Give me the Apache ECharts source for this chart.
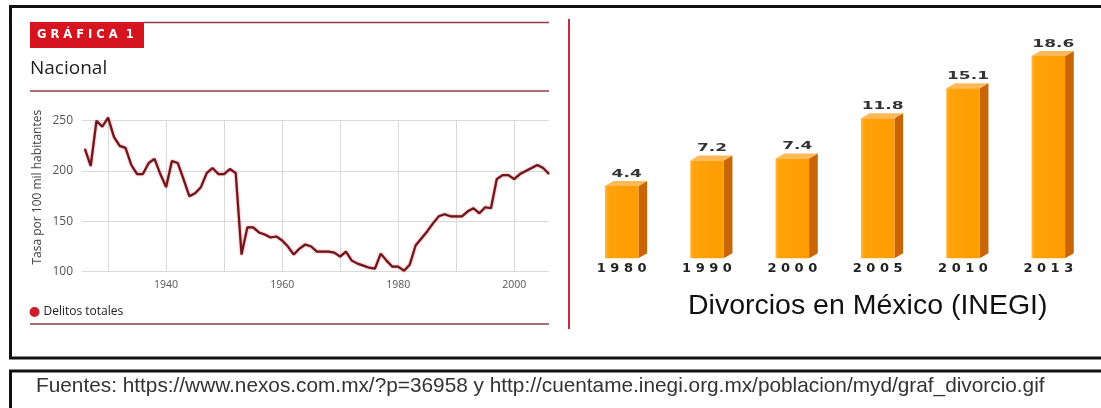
<!DOCTYPE html>
<html><head><meta charset="utf-8">
<script src="https://cdn.jsdelivr.net/npm/echarts@6/dist/echarts.min.js"></script>
<style>html,body{margin:0;padding:0;background:#fff}#c{width:1101px;height:408px}</style>
</head><body><div id="c"></div>
<script>
// ---- Left chart: Delitos totales (tasa por 100 mil habitantes) ----
const crimeYears = [];
for (let y = 1926; y <= 2006; y++) crimeYears.push(y);
const crimeRates = [
  222,205,250,244,253,234,225,223,206,197, // 1926-1935
  197,208,212,197,184,210,208,192,175,178, // 1936-1945
  184,198,203,197,197,202,198,117,144,144, // 1946-1955
  139,137,134,135,131,125,117,123,127,125, // 1956-1965
  120,120,120,119,115,120,111,108,106,104, // 1966-1975
  103,118,111,105,105,101,107,126,133,140, // 1976-1985
  148,155,157,155,155,155,160,163,158,164, // 1986-1995
  163,192,196,196,192,197,200,203,206,203, // 1996-2005
  197                                       // 2006
];
const crimeGridYears = [1930,1940,1950,1960,1970,1980,1990,2000];
const crimeLabelYears = [1940,1960,1980,2000];
const crimeYTicks = [100,150,200,250];

// ---- Right chart: Divorcios en México (INEGI) ----
const divorceYears = ['1980','1990','2000','2005','2010','2013'];
const divorceRates = [4.4,7.2,7.4,11.8,15.1,18.6];

const BAR_MIN = -3.5, BAR_MAX = 20;

const chart = echarts.init(document.getElementById('c'), null, {renderer:'canvas'});

const spaced = s => String(s).split('').join(' ');

const option = {
  backgroundColor:'#ffffff',
  animation:false,
  title:[
    {text:'Nacional', left:30, top:59, padding:0,
     textStyle:{fontFamily:'Open Sans', fontSize:19, fontWeight:'normal', color:'#1e1e1e'}},
    {text:'Divorcios en México (INEGI)', left:688, top:292, padding:0,
     textStyle:{fontFamily:'Liberation Sans', fontSize:28.5, fontWeight:'normal', color:'#111'}}
  ],
  legend:{
    data:['Delitos totales'], left:29.5, top:306, padding:0,
    icon:'circle', itemWidth:10, itemHeight:10, itemGap:5,
    textStyle:{fontFamily:'Open Sans', fontSize:12, color:'#222', padding:[0,0,0,-1]}
  },
  grid:[
    {left:82, right:552, top:120.7, bottom:136.3},
    {left:579, right:10, top:43.3, bottom:149.7}
  ],
  xAxis:[
    {type:'value', gridIndex:0, min:1925.5, max:2006,
     axisLine:{show:false},
     axisTick:{show:false, customValues:crimeGridYears},
     splitLine:{show:true, lineStyle:{color:'#d9d9d9', width:1}},
     axisLabel:{customValues:crimeLabelYears, margin:8, color:'#555',
                fontFamily:'Open Sans', fontSize:10.5, formatter:v=>String(v)}},
    {type:'category', gridIndex:1, data:divorceYears,
     axisLine:{show:false}, axisTick:{show:false}, splitLine:{show:false},
     axisLabel:{margin:4, color:'#222', fontFamily:'DejaVu Sans', fontWeight:'bold', fontSize:13,
                formatter:v=>spaced(v)}}
  ],
  yAxis:[
    {type:'value', gridIndex:0, min:100, max:250, interval:50,
     name:'Tasa por 100 mil habitantes', nameLocation:'middle', nameGap:38,
     nameTextStyle:{fontFamily:'Open Sans', fontSize:12, color:'#444', padding:[0,0,0,18]},
     axisLine:{show:false}, axisTick:{show:false},
     splitLine:{show:true, lineStyle:{color:'#d9d9d9', width:1}},
     axisLabel:{customValues:crimeYTicks, margin:9, color:'#555', fontFamily:'Open Sans', fontSize:12}},
    {type:'value', gridIndex:1, min:BAR_MIN, max:BAR_MAX, show:false,
     splitLine:{show:false}}
  ],
  series:[
    {name:'Delitos totales', type:'line', xAxisIndex:0, yAxisIndex:0,
     data:crimeYears.map((y,i)=>[y, crimeRates[i]]),
     showSymbol:false, symbol:'circle', clip:false,
     itemStyle:{color:'#cc1f2a'},
     lineStyle:{color:'#6b181d', width:2.2, shadowColor:'rgba(220,30,40,0.7)', shadowBlur:2}},
    {name:'Divorcios', type:'custom', xAxisIndex:1, yAxisIndex:1,
     data:divorceYears.map((y,i)=>[i, divorceRates[i]]),
     encode:{x:0, y:1},
     renderItem:function(params, api){
       const top = api.coord([api.value(0), api.value(1)]);
       const base = api.coord([api.value(0), BAR_MIN]);
       const w = 33.5, dx = 8.7, dy = 5;
       const x0 = top[0] - w/2, x1 = x0 + w;
       const t = top[1], b = base[1];
       return {type:'group', children:[
         {type:'polygon', shape:{points:[[x1,t],[x1+dx,t-dy],[x1+dx,b-dy],[x1,b]]},
          style:{fill:'#c76507'}},
         {type:'polygon', shape:{points:[[x0,t],[x0+dx,t-dy],[x1+dx,t-dy],[x1,t]]},
          style:{fill:'#ffb85a'}},
         {type:'rect', shape:{x:x0, y:t, width:w, height:b-t},
          style:{fill:new echarts.graphic.LinearGradient(0,0,1,0,[
            {offset:0,color:'#ffb23a'},{offset:0.12,color:'#ffa20a'},{offset:1,color:'#ff9c00'}])}},
         {type:'text', x:top[0]+5, y:t-dy-7, scaleX:1.7,
          style:{text:String(api.value(1)), fill:'#333', fontFamily:'DejaVu Sans',
                 fontWeight:'bold', fontSize:10, align:'center', verticalAlign:'middle'}}
       ]};
     }}
  ],
  graphic:[
    {type:'rect', shape:{x:10.5, y:6.5, width:1100, height:351.5},
     style:{fill:'none', stroke:'#111', lineWidth:3}, silent:true},
    {type:'rect', shape:{x:10.5, y:371, width:1100, height:60},
     style:{fill:'none', stroke:'#111', lineWidth:3}, silent:true},
    {type:'rect', shape:{x:30, y:22, width:114, height:26}, style:{fill:'#d6141f'}, silent:true},
    {type:'text', x:37, y:35.5, style:{text:'G R Á F I C A  1', fill:'#fff',
      fontFamily:'DejaVu Sans', fontWeight:'bold', fontSize:11.5, verticalAlign:'middle'}},
    {type:'line', shape:{x1:144, y1:22.5, x2:549, y2:22.5}, style:{stroke:'#8d3f44', lineWidth:1.5}},
    {type:'line', shape:{x1:30, y1:91, x2:549, y2:91}, style:{stroke:'#8d3f44', lineWidth:1.5}},
    {type:'line', shape:{x1:30, y1:324, x2:549, y2:324}, style:{stroke:'#8d3f44', lineWidth:1.5}},
    {type:'line', shape:{x1:569, y1:19, x2:569, y2:329}, style:{stroke:'#c52d45', lineWidth:2}},
    {type:'text', x:36, y:386, style:{text:'Fuentes: https://www.nexos.com.mx/?p=36958 y http://cuentame.inegi.org.mx/poblacion/myd/graf_divorcio.gif',
      fill:'#333', fontFamily:'Liberation Sans', fontSize:20.8, verticalAlign:'middle'}}
  ]
};
chart.setOption(option);
</script>
</body></html>
